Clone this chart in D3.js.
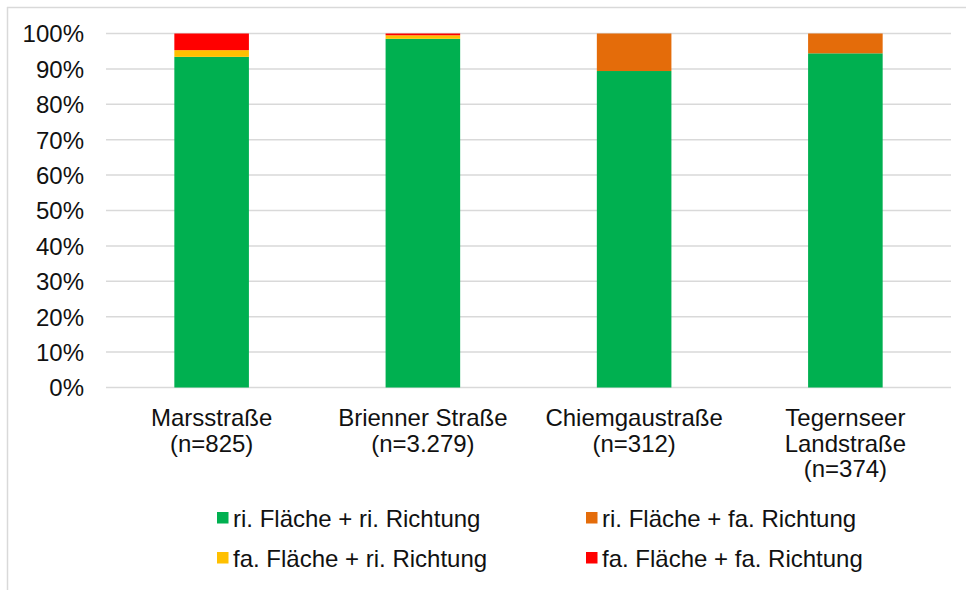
<!DOCTYPE html>
<html>
<head>
<meta charset="utf-8">
<script src="https://cdn.jsdelivr.net/npm/d3@7"></script>
<style>
  html, body { margin: 0; padding: 0; background: #fff; }
  svg { display: block; font-family: Arial, "Liberation Sans", sans-serif; }
</style>
</head>
<body>
<svg id="chart" width="966" height="590"></svg>
<script>
// Categories (street name lines incl. sample size)
const categories = ["Marsstraße", "Brienner Straße", "Chiemgaustraße", "Tegernseer Landstraße"];
const categoryLines = [
  ["Marsstraße", "(n=825)"],
  ["Brienner Straße", "(n=3.279)"],
  ["Chiemgaustraße", "(n=312)"],
  ["Tegernseer", "Landstraße", "(n=374)"]
];

// Series names and shares in percent
const seriesNames = [
  "ri. Fläche + ri. Richtung",
  "ri. Fläche + fa. Richtung",
  "fa. Fläche + ri. Richtung",
  "fa. Fläche + fa. Richtung"
];
const riFlaecheRiRichtung = [93.4, 98.5, 89.4, 94.4];
const riFlaecheFaRichtung = [0.0, 0.0, 10.6, 5.6];
const faFlaecheRiRichtung = [1.9, 1.0, 0.0, 0.0];
const faFlaecheFaRichtung = [4.7, 0.5, 0.0, 0.0];
const seriesColors = ["#00B050", "#E46C0A", "#FFC000", "#FF0000"];

const yTicks = [0, 10, 20, 30, 40, 50, 60, 70, 80, 90, 100];

const seriesValues = [riFlaecheRiRichtung, riFlaecheFaRichtung, faFlaecheRiRichtung, faFlaecheFaRichtung];
const table = categories.map((c, i) => {
  const row = { category: c };
  seriesNames.forEach((s, k) => { row[s] = seriesValues[k][i]; });
  return row;
});

const svg = d3.select("#chart");
const textColor = "#111";
const fontSize = 24;

// Chart frame (partially cropped border)
svg.append("line").attr("x1", 7.5).attr("x2", 7.5).attr("y1", 7).attr("y2", 590)
  .attr("stroke", "#d9d9d9").attr("stroke-width", 1.5);
svg.append("line").attr("x1", 7).attr("x2", 966).attr("y1", 7.5).attr("y2", 7.5)
  .attr("stroke", "#d9d9d9").attr("stroke-width", 1.5);

const plot = { left: 106, right: 951, top: 33.5, bottom: 387.5 };

const x = d3.scaleBand().domain(categories).range([plot.left, plot.right]).padding(0);
const y = d3.scaleLinear().domain([0, 100]).range([plot.bottom, plot.top]);

// Gridlines
svg.append("g").selectAll("line").data(yTicks).join("line")
  .attr("x1", plot.left).attr("x2", plot.right)
  .attr("y1", d => y(d)).attr("y2", d => y(d))
  .attr("stroke", "#d9d9d9").attr("stroke-width", 1.5);

// Y axis labels
const yAxis = d3.axisLeft(y).tickValues(yTicks).tickFormat(d => d + "%").tickSize(0).tickPadding(0);
const yg = svg.append("g").attr("transform", `translate(84,0)`).call(yAxis);
yg.select(".domain").remove();
yg.selectAll("text").attr("font-size", fontSize).attr("fill", textColor)
  .attr("font-family", "Arial, 'Liberation Sans', sans-serif").attr("dy", "0.35em");

// Stacked bars
const stack = d3.stack().keys(seriesNames)(table);
const barW = x.bandwidth() * 0.353;
svg.append("g").selectAll("g").data(stack).join("g")
  .attr("fill", (d, i) => seriesColors[i])
  .selectAll("rect").data(d => d).join("rect")
  .attr("x", d => x(d.data.category) + (x.bandwidth() - barW) / 2)
  .attr("width", barW)
  .attr("y", d => y(d[1]))
  .attr("height", d => y(d[0]) - y(d[1]));

// Category labels
const lineGap = 25.5;
const catG = svg.append("g");
categories.forEach((c, i) => {
  const t = catG.append("text")
    .attr("x", x(c) + x.bandwidth() / 2)
    .attr("y", 426)
    .attr("text-anchor", "middle")
    .attr("font-size", fontSize)
    .attr("fill", textColor);
  categoryLines[i].forEach((line, j) => {
    t.append("tspan").attr("x", x(c) + x.bandwidth() / 2).attr("y", 426 + j * lineGap).text(line);
  });
});

// Legend
const legendPos = [[217, 512], [586, 512], [217, 552], [586, 552]];
const lg = svg.append("g");
seriesNames.forEach((s, i) => {
  const [lx, ly] = legendPos[i];
  lg.append("rect").attr("x", lx).attr("y", ly).attr("width", 11.5).attr("height", 11.5)
    .attr("fill", seriesColors[i]);
  lg.append("text").attr("x", lx + 16).attr("y", ly + 14.5)
    .attr("font-size", fontSize).attr("fill", textColor).text(s);
});
</script>
</body>
</html>
